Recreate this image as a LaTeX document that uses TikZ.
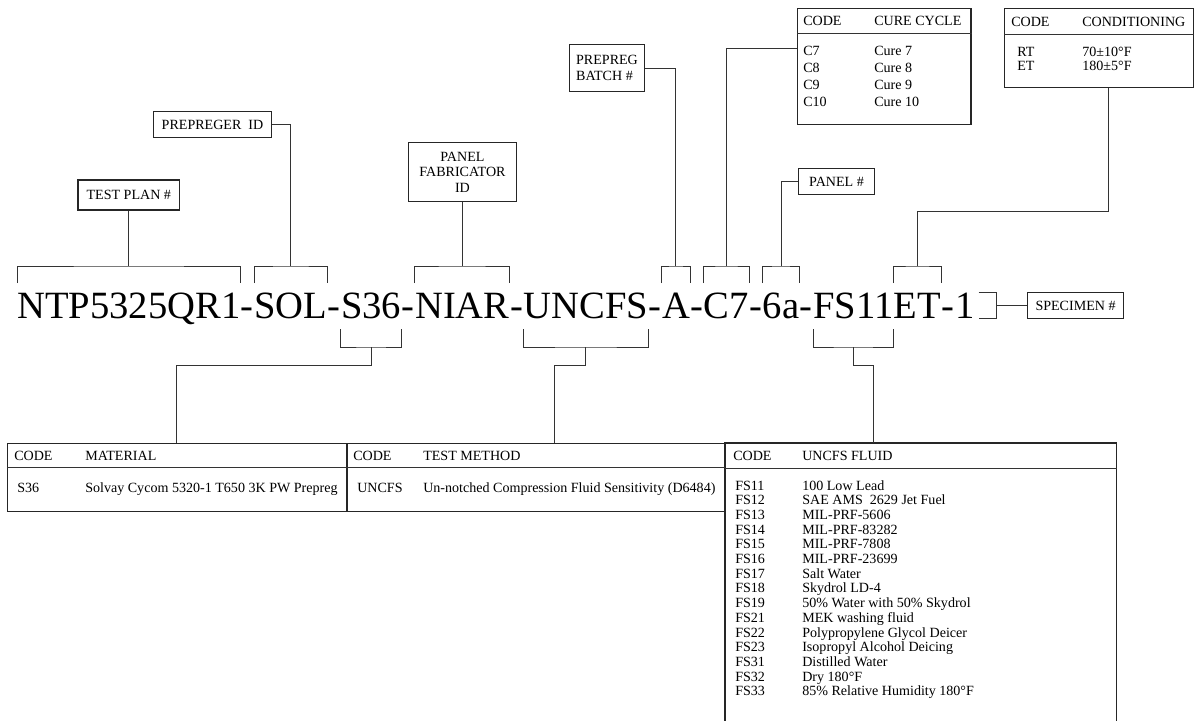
\documentclass[tikz,border=0pt]{standalone}
\usepackage{fontspec}
\setmainfont{Liberation Serif}
\usetikzlibrary{calc}

% bracket over / under one part of the code
\newcommand{\brup}[1]{\draw[ln] (#1.west |- upbot) |- (#1.center |- uptop) -| (#1.east |- upbot);
  \coordinate (#1-m) at (#1.center |- uptop);}
\newcommand{\brdown}[1]{\draw[ln] (#1.west |- lowtop) |- (#1.center |- lowbot) -| (#1.east |- lowtop);
  \coordinate (#1-m) at (#1.center |- lowbot);}

\begin{document}
\begin{tikzpicture}[x=0.025cm,y=0.025cm,
  ln/.style={black!80,line width=0.7pt},
  code/.style={inner sep=0pt,anchor=base west,font=\fontsize{27.45}{30}\selectfont},
  lbl/.style={draw=black!85,line width=0.8pt,inner sep=0pt,align=center,font=\fontsize{10}{11}\selectfont},
  tbl/.style={draw=black!85,line width=0.8pt,inner sep=0pt,anchor=north west},
  txt/.style={inner sep=0pt,anchor=base west,font=\fontsize{10}{11}\selectfont}]
\useasboundingbox (0,0) rectangle (1200,-721);
% levels of the brackets
\coordinate (uptop) at (0,-266);
\coordinate (upbot) at (0,-283);
\coordinate (lowtop) at (0,-329);
\coordinate (lowbot) at (0,-347);

% specimen code
\node[code] (tp) at (17,-318.5) {NTP5325QR1};
\node[code] (h1) at (tp.base east) {-};
\node[code] (sol) at (h1.base east) {SOL};
\node[code] (h2) at (sol.base east) {-};
\node[code] (mtl) at (h2.base east) {S36};
\node[code] (h3) at (mtl.base east) {-};
\node[code] (niar) at (h3.base east) {NIAR};
\node[code] (h4) at (niar.base east) {-};
\node[code] (unc) at (h4.base east) {UNCFS};
\node[code] (h5) at (unc.base east) {-};
\node[code] (bat) at (h5.base east) {A};
\node[code] (h6) at (bat.base east) {-};
\node[code] (cc) at (h6.base east) {C7};
\node[code] (h7) at (cc.base east) {-};
\node[code] (pnl) at (h7.base east) {6a};
\node[code] (h8) at (pnl.base east) {-};
\node[code] (fs) at (h8.base east) {FS11};
\node[code] (et) at (fs.base east) {ET};
\node[code] (h9) at (et.base east) {-};
\node[code] (spc) at (h9.base east) {1};

% brackets
\brup{tp} \brup{sol} \brup{niar} \brup{bat} \brup{cc} \brup{pnl} \brup{et}
\brdown{mtl} \brdown{unc} \brdown{fs}
\draw[ln] ($(spc.base east)+(4,26.5)$) -| ($(spc.base east)+(22,0)$) -- ++(-18,0);
\coordinate (spc-m) at ($(spc.base east)+(22,13)$);

% tables
\node[tbl,minimum width=123.3pt,minimum height=82.2pt] (cure) at (797,-8) {};
\node[tbl,minimum width=134.6pt,minimum height=56pt] (cond) at (1004,-8) {};
\node[tbl,minimum width=240.9pt,minimum height=48.2pt] (mat) at (7,-443) {};
\node[tbl,minimum width=267.9pt,minimum height=48.2pt] (tm) at (347,-443) {};
\node[tbl,draw=none,minimum width=277.8pt,minimum height=197pt] (fl) at (725,-443) {};
\draw[black!85,line width=0.8pt] (fl.south west) |- (fl.north east) -- (fl.south east);
\foreach \t/\d in {cure/25,cond/26,mat/24,tm/24,fl/25}
  \draw[ln] ($(\t.north west)+(0,-\d)$) -- ($(\t.north east)+(0,-\d)$);

\node[txt] at ($(cure.north west)+(6,-18)$) {CODE};
\node[txt] at ($(cure.north west)+(77,-18)$) {CURE CYCLE};
\foreach \c [count=\i from 0] in {7,8,9,10} {
  \node[txt] at ($(cure.north west)+(6,-48-16.7*\i)$) {C\c};
  \node[txt] at ($(cure.north west)+(77,-48-16.7*\i)$) {Cure \c};
}
\node[txt] at ($(cond.north west)+(7,-19)$) {CODE};
\node[txt] at ($(cond.north west)+(78,-19)$) {CONDITIONING};
\node[txt] at ($(cond.north west)+(13,-49)$) {RT};
\node[txt] at ($(cond.north west)+(78,-49)$) {70±10°F};
\node[txt] at ($(cond.north west)+(13,-63)$) {ET};
\node[txt] at ($(cond.north west)+(78,-63)$) {180±5°F};

\node[txt] at ($(mat.north west)+(7,-17)$) {CODE};
\node[txt] at ($(mat.north west)+(78,-17)$) {MATERIAL};
\node[txt] at ($(mat.north west)+(10,-49)$) {S36};
\node[txt] at ($(mat.north west)+(78,-49)$) {Solvay Cycom 5320-1 T650 3K PW Prepreg};
\node[txt] at ($(tm.north west)+(6,-17)$) {CODE};
\node[txt] at ($(tm.north west)+(76,-17)$) {TEST METHOD};
\node[txt] at ($(tm.north west)+(10,-49)$) {UNCFS};
\node[txt] at ($(tm.north west)+(76,-49)$) {Un-notched Compression Fluid Sensitivity (D6484)};
\node[txt] at ($(fl.north west)+(8,-17)$) {CODE};
\node[txt] at ($(fl.north west)+(77,-17)$) {UNCFS FLUID};
\foreach \c/\f [count=\i from 0] in {FS11/100 Low Lead,FS12/SAE AMS\ \ 2629 Jet Fuel,
  FS13/MIL-PRF-5606,FS14/MIL-PRF-83282,FS15/MIL-PRF-7808,FS16/MIL-PRF-23699,
  FS17/Salt Water,FS18/Skydrol LD-4,FS19/50\% Water with 50\% Skydrol,
  FS21/MEK washing fluid,FS22/Polypropylene Glycol Deicer,FS23/Isopropyl Alcohol Deicing,
  FS31/Distilled Water,FS32/Dry 180°F,FS33/85\% Relative Humidity 180°F} {
  \node[txt] at ($(fl.north west)+(10,-47-14.7*\i)$) {\c};
  \node[txt] at ($(fl.north west)+(77,-47-14.7*\i)$) {\f};
}

% label boxes
\node[lbl,minimum width=72.3pt,minimum height=21.3pt] (tplan) at (tp-m |- 0,-195) {TEST PLAN \#};
\node[lbl,minimum width=84.3pt,minimum height=19.1pt] (prid) at (212.5,-124.5) {PREPREGER\ \ ID};
\node[lbl,minimum width=76.5pt,minimum height=42.5pt] (pfid) at (niar-m |- 0,-172) {PANEL\\FABRICATOR\\ID};
\node[lbl,minimum width=53.9pt,minimum height=34pt,align=left] (batch) at (607,-68) {PREPREG\\BATCH \#};
\node[lbl,minimum width=54.6pt,minimum height=19.1pt] (pnum) at (836.5,-181.5) {PANEL \#};
\node[lbl,minimum width=68.7pt,minimum height=19.1pt,anchor=west] (spec) at ($(spc-m)+(30,0)$) {SPECIMEN \#};

% connectors
\draw[ln] (tp-m) -- (tplan);
\draw[ln] (sol-m) |- (prid.east);
\draw[ln] (niar-m) -- (pfid);
\draw[ln] (bat-m) |- (batch.east);
\draw[ln] (cc-m) |- ($(cure.north west)+(0,-40)$);
\draw[ln] (pnl-m) |- (pnum.west);
\draw[ln] (et-m) -- ++(0,55) -| ($(cond.south west)!0.55!(cond.south east)$);
\draw[ln] (spc-m) -- (spec.west);
\draw[ln] (mtl-m) -- ++(0,-18) -| (mat.north);
\draw[ln] (unc-m) -- ++(0,-18) -| ($(tm.north west)!0.55!(tm.north east)$);
\draw[ln] (fs-m) -- ++(0,-18) -| ($(fl.north west)!0.38!(fl.north east)$);
\end{tikzpicture}
\end{document}
